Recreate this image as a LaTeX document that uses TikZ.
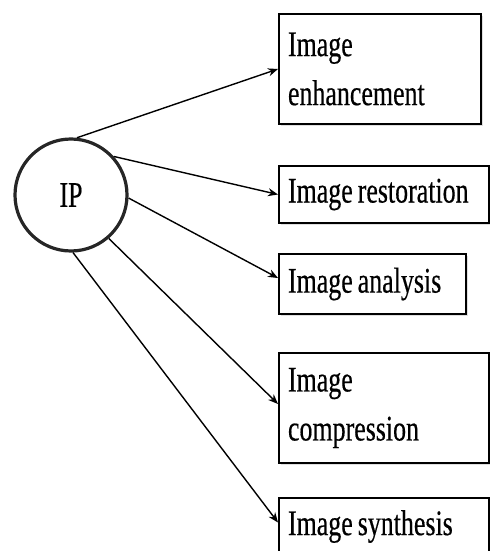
\documentclass[tikz,border=0pt]{standalone}
\usepackage{fontspec}
\newfontfamily\boxfont{Liberation Serif}[FakeStretch=0.72, FakeBold=0.4]
\newcommand\topicfont{\boxfont\fontsize{18}{24.5}\selectfont}
\usetikzlibrary{positioning,arrows.meta,shadows}

\begin{document}
\begin{tikzpicture}[
    x = 0.5pt, y = -0.5pt,
    > = {Stealth[length=5pt, width=4pt]},
    semithick,
    font = \topicfont,
    ipnode/.style={circle, draw=black!85, line width=1.6pt, minimum size=56pt, inner sep=0pt},
    topic/.style={rectangle, draw, line width=1pt, anchor=north west, align=flush left,
        inner xsep=4.5pt, inner ysep=0pt, fill=white,
        execute at begin node={\spaceskip=2.5pt\relax},
        drop shadow={opacity=0.25, shadow xshift=1pt, shadow yshift=-1pt}},
    link/.style={->, line width=0.7pt}
]
    \clip (0,0) rectangle (490,551);

    \node[ipnode] (ip) at (71,195) {IP};

    \node[topic, text width=92pt, minimum height=55pt] (enh) at (278,13) {Image\\enhancement};
    \node[topic, text width=96pt, minimum height=28.5pt] (res) at (278,165) {Image restoration};
    \node[topic, text width=84.5pt, minimum height=30pt] (ana) at (278,253) {Image analysis};
    \node[topic, text width=96pt, minimum height=55pt] (com) at (278,352) {Image\\compression};
    \node[topic, text width=96pt, minimum height=28.5pt] (syn) at (278,497) {Image synthesis};

    \path[link]
        (ip.84) edge (enh.west)
        (ip.42) edge (res.west)
        (ip.-3) edge ([yshift=3pt]ana.west)
        (ip.-49) edge ([yshift=2pt]com.west)
        (ip.-88) edge ([yshift=2pt]syn.west);
\end{tikzpicture}
\end{document}
